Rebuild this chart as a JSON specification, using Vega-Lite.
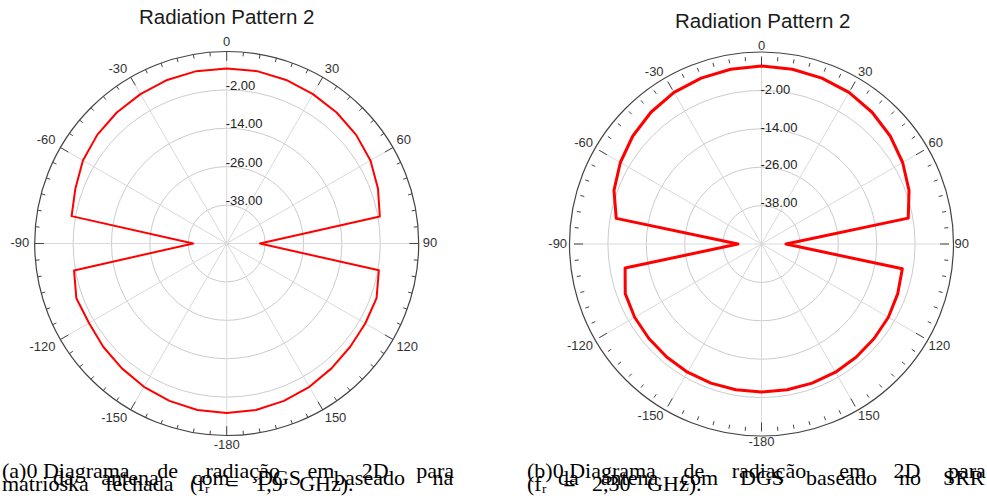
{
  "$schema": "https://vega.github.io/schema/vega-lite/v6.json",
  "padding": 0,
  "spacing": 0,
  "background": "white",
  "config": {"view": {"stroke": null}, "concat": {"spacing": 0}},
  "datasets": {
    "left": [
      {"ang": 0, "db": 4.69}, {"ang": 10, "db": 4.69}, {"ang": 20, "db": 4.38}, {"ang": 30, "db": 3.91},
      {"ang": 40, "db": 3.44}, {"ang": 50, "db": 2.81}, {"ang": 60, "db": 1.88}, {"ang": 70, "db": 0.31},
      {"ang": 80, "db": -1.41}, {"ang": 90, "db": -39.6}, {"ang": 100, "db": -1.72}, {"ang": 110, "db": -0.16},
      {"ang": 120, "db": 0.0}, {"ang": 130, "db": 0.31}, {"ang": 140, "db": 0.94}, {"ang": 150, "db": 1.72},
      {"ang": 160, "db": 2.34}, {"ang": 170, "db": 2.81}, {"ang": 180, "db": 2.97}, {"ang": 190, "db": 2.81},
      {"ang": 200, "db": 2.34}, {"ang": 210, "db": 1.72}, {"ang": 220, "db": 0.94}, {"ang": 230, "db": 0.31},
      {"ang": 240, "db": -0.31}, {"ang": 250, "db": 0.0}, {"ang": 260, "db": -1.56}, {"ang": 270, "db": -39.53},
      {"ang": 280, "db": -0.78}, {"ang": 290, "db": 0.31}, {"ang": 300, "db": 1.88}, {"ang": 310, "db": 2.81},
      {"ang": 320, "db": 3.44}, {"ang": 330, "db": 3.91}, {"ang": 340, "db": 4.38}, {"ang": 350, "db": 4.69},
      {"ang": 360, "db": 4.69}
    ],
    "right": [
      {"ang": 0, "db": 6.96}, {"ang": 10, "db": 6.8}, {"ang": 20, "db": 6.48}, {"ang": 30, "db": 6.0},
      {"ang": 40, "db": 5.04}, {"ang": 50, "db": 3.76}, {"ang": 60, "db": 2.16}, {"ang": 70, "db": 0.24},
      {"ang": 80, "db": -2.32}, {"ang": 90, "db": -42.16}, {"ang": 100, "db": -4.24}, {"ang": 110, "db": -3.6},
      {"ang": 120, "db": -3.12}, {"ang": 130, "db": -2.96}, {"ang": 140, "db": -2.8}, {"ang": 150, "db": -2.64},
      {"ang": 160, "db": -2.64}, {"ang": 170, "db": -2.64}, {"ang": 180, "db": -2.64}, {"ang": 190, "db": -2.64},
      {"ang": 200, "db": -2.64}, {"ang": 210, "db": -2.64}, {"ang": 220, "db": -2.8}, {"ang": 230, "db": -2.96},
      {"ang": 240, "db": -3.12}, {"ang": 250, "db": -3.6}, {"ang": 260, "db": -5.68}, {"ang": 270, "db": -42.48},
      {"ang": 280, "db": -2.8}, {"ang": 290, "db": 0.24}, {"ang": 300, "db": 2.16}, {"ang": 310, "db": 3.76},
      {"ang": 320, "db": 5.04}, {"ang": 330, "db": 6.0}, {"ang": 340, "db": 6.48}, {"ang": 350, "db": 6.8},
      {"ang": 360, "db": 6.96}
    ],
    "rg": [{"lv": -38, "t": "-38.00"}, {"lv": -26, "t": "-26.00"}, {"lv": -14, "t": "-14.00"}, {"lv": -2, "t": "-2.00"}],
    "outer": [{"lv": 10}],
    "spk": [{"ang": 0}, {"ang": 30}, {"ang": 60}, {"ang": 90}, {"ang": 120}, {"ang": 150}, {"ang": 180}, {"ang": 210}, {"ang": 240}, {"ang": 270}, {"ang": 300}, {"ang": 330}],
    "tk": [
      {"ang": 0}, {"ang": 5}, {"ang": 10}, {"ang": 15}, {"ang": 20}, {"ang": 25}, {"ang": 30}, {"ang": 35}, {"ang": 40}, {"ang": 45}, {"ang": 50}, {"ang": 55},
      {"ang": 60}, {"ang": 65}, {"ang": 70}, {"ang": 75}, {"ang": 80}, {"ang": 85}, {"ang": 90}, {"ang": 95}, {"ang": 100}, {"ang": 105}, {"ang": 110}, {"ang": 115},
      {"ang": 120}, {"ang": 125}, {"ang": 130}, {"ang": 135}, {"ang": 140}, {"ang": 145}, {"ang": 150}, {"ang": 155}, {"ang": 160}, {"ang": 165}, {"ang": 170}, {"ang": 175},
      {"ang": 180}, {"ang": 185}, {"ang": 190}, {"ang": 195}, {"ang": 200}, {"ang": 205}, {"ang": 210}, {"ang": 215}, {"ang": 220}, {"ang": 225}, {"ang": 230}, {"ang": 235},
      {"ang": 240}, {"ang": 245}, {"ang": 250}, {"ang": 255}, {"ang": 260}, {"ang": 265}, {"ang": 270}, {"ang": 275}, {"ang": 280}, {"ang": 285}, {"ang": 290}, {"ang": 295},
      {"ang": 300}, {"ang": 305}, {"ang": 310}, {"ang": 315}, {"ang": 320}, {"ang": 325}, {"ang": 330}, {"ang": 335}, {"ang": 340}, {"ang": 345}, {"ang": 350}, {"ang": 355}
    ],
    "al": [
      {"ang": 0, "t": "0"}, {"ang": 30, "t": "30"}, {"ang": 60, "t": "60"}, {"ang": 90, "t": "90"},
      {"ang": 120, "t": "120"}, {"ang": 150, "t": "150"}, {"ang": 180, "t": "-180"}, {"ang": 210, "t": "-150"},
      {"ang": 240, "t": "-120"}, {"ang": 270, "t": "-90"}, {"ang": 300, "t": "-60"}, {"ang": 330, "t": "-30"}
    ],
    "ttl": [{"t": "Radiation Pattern 2"}],
    "capL1": [{"t": "(a)0 Diagrama\u00a0\u00a0\u00a0\u00a0\u00a0de\u00a0\u00a0\u00a0\u00a0\u00a0radiação\u00a0\u00a0\u00a0\u00a0\u00a0em\u00a0\u00a0\u00a0\u00a0\u00a02D\u00a0\u00a0\u00a0\u00a0\u00a0para"}],
    "capL2": [{"t": "da\u00a0\u00a0\u00a0\u00a0\u00a0antena\u00a0\u00a0\u00a0\u00a0\u00a0\u00a0com\u00a0\u00a0\u00a0\u00a0\u00a0DGS\u00a0\u00a0\u00a0\u00a0\u00a0\u00a0baseado\u00a0\u00a0\u00a0\u00a0\u00a0na"}],
    "capL3": [{"t": "matrioska\u00a0\u00a0\u00a0fechada\u00a0\u00a0\u00a0(fᵣ\u00a0\u00a0\u00a0=\u00a0\u00a0\u00a01,9\u00a0\u00a0\u00a0GHz)."}],
    "capR1": [{"t": "(b)0 Diagrama\u00a0\u00a0\u00a0\u00a0\u00a0de\u00a0\u00a0\u00a0\u00a0\u00a0radiação\u00a0\u00a0\u00a0\u00a0\u00a0\u00a0em\u00a0\u00a0\u00a0\u00a0\u00a02D\u00a0\u00a0\u00a0\u00a0\u00a0para"}],
    "capR2": [{"t": "da\u00a0\u00a0\u00a0\u00a0antena\u00a0\u00a0\u00a0\u00a0com\u00a0\u00a0\u00a0\u00a0DGS\u00a0\u00a0\u00a0\u00a0baseado\u00a0\u00a0\u00a0\u00a0no\u00a0\u00a0\u00a0\u00a0SRR"}],
    "capR3": [{"t": "(fᵣ\u00a0\u00a0\u00a0=\u00a0\u00a0\u00a02,30\u00a0\u00a0\u00a0GHz)."}]
  },
  "hconcat": [
    {
      "width": 493,
      "height": 499,
      "layer": [
        {
          "data": {"name": "rg"},
          "transform": [{"calculate": "datum.lv + 50", "as": "rr"}],
          "mark": {"type": "point", "shape": "circle", "filled": false, "stroke": "#cccccc", "strokeWidth": 1, "opacity": 1},
          "encoding": {
            "x": {"datum": 0, "type": "quantitative", "scale": {"domain": [-70.84, 83.22], "nice": false, "zero": false}, "axis": null},
            "y": {"datum": 0, "type": "quantitative", "scale": {"domain": [-79.84, 76.09], "nice": false, "zero": false}, "axis": null},
            "size": {"field": "rr", "type": "quantitative", "scale": {"type": "pow", "exponent": 2, "domain": [0, 60], "range": [0, 147456]}, "legend": null}
          }
        },
        {
          "data": {"name": "spk"},
          "transform": [
            {"calculate": "0", "as": "x0"},
            {"calculate": "0", "as": "y0"},
            {"calculate": "60 * sin(datum.ang * PI / 180)", "as": "x2"},
            {"calculate": "60 * cos(datum.ang * PI / 180)", "as": "y2"}
          ],
          "mark": {"type": "rule", "stroke": "#d9d9d9", "strokeWidth": 1},
          "encoding": {
            "x": {"field": "x0", "type": "quantitative", "scale": {"domain": [-70.84, 83.22], "nice": false, "zero": false}, "axis": null},
            "y": {"field": "y0", "type": "quantitative", "scale": {"domain": [-79.84, 76.09], "nice": false, "zero": false}, "axis": null},
            "x2": {"field": "x2"},
            "y2": {"field": "y2"}
          }
        },
        {
          "data": {"name": "outer"},
          "transform": [{"calculate": "datum.lv + 50", "as": "rr"}],
          "mark": {"type": "point", "shape": "circle", "filled": false, "stroke": "#444444", "strokeWidth": 1.2, "opacity": 1},
          "encoding": {
            "x": {"datum": 0, "type": "quantitative", "scale": {"domain": [-70.84, 83.22], "nice": false, "zero": false}, "axis": null},
            "y": {"datum": 0, "type": "quantitative", "scale": {"domain": [-79.84, 76.09], "nice": false, "zero": false}, "axis": null},
            "size": {"field": "rr", "type": "quantitative", "scale": {"type": "pow", "exponent": 2, "domain": [0, 60], "range": [0, 147456]}, "legend": null}
          }
        },
        {
          "data": {"name": "tk"},
          "transform": [
            {"calculate": "datum.ang % 30 === 0 ? 2.9 : 1.3", "as": "len"},
            {"calculate": "60 * sin(datum.ang * PI / 180)", "as": "xa"},
            {"calculate": "60 * cos(datum.ang * PI / 180)", "as": "ya"},
            {"calculate": "(60 - datum.len) * sin(datum.ang * PI / 180)", "as": "xb"},
            {"calculate": "(60 - datum.len) * cos(datum.ang * PI / 180)", "as": "yb"}
          ],
          "mark": {"type": "rule", "stroke": "#444444", "strokeWidth": 1},
          "encoding": {
            "x": {"field": "xa", "type": "quantitative", "scale": {"domain": [-70.84, 83.22], "nice": false, "zero": false}, "axis": null},
            "y": {"field": "ya", "type": "quantitative", "scale": {"domain": [-79.84, 76.09], "nice": false, "zero": false}, "axis": null},
            "x2": {"field": "xb"},
            "y2": {"field": "yb"}
          }
        },
        {
          "data": {"name": "left"},
          "transform": [
            {"calculate": "(datum.db + 50) * sin(datum.ang * PI / 180)", "as": "px"},
            {"calculate": "(datum.db + 50) * cos(datum.ang * PI / 180)", "as": "py"}
          ],
          "mark": {"type": "line", "color": "#ff0000", "strokeWidth": 2, "strokeJoin": "round"},
          "encoding": {
            "x": {"field": "px", "type": "quantitative", "scale": {"domain": [-70.84, 83.22], "nice": false, "zero": false}, "axis": null},
            "y": {"field": "py", "type": "quantitative", "scale": {"domain": [-79.84, 76.09], "nice": false, "zero": false}, "axis": null},
            "order": {"field": "ang", "type": "quantitative"}
          }
        },
        {
          "data": {"name": "al"},
          "transform": [
            {"calculate": "sin(datum.ang * PI / 180)", "as": "s"},
            {"calculate": "cos(datum.ang * PI / 180)", "as": "c"},
            {"calculate": "(196 * datum.s + (abs(datum.s) < 0.01 ? 0 : (datum.s > 0 ? 1 : -1)) * length(datum.t) * 3.6) / 3.2", "as": "lx"},
            {"calculate": "(196 * datum.c + (abs(datum.c) < 0.01 ? 0 : (datum.c > 0 ? 5 : -5))) / 3.2", "as": "ly"}
          ],
          "mark": {"type": "text", "font": "Liberation Sans", "fontSize": 13, "color": "#333333", "align": "center", "baseline": "middle"},
          "encoding": {
            "x": {"field": "lx", "type": "quantitative", "scale": {"domain": [-70.84, 83.22], "nice": false, "zero": false}, "axis": null},
            "y": {"field": "ly", "type": "quantitative", "scale": {"domain": [-79.84, 76.09], "nice": false, "zero": false}, "axis": null},
            "text": {"field": "t"}
          }
        },
        {
          "data": {"name": "rg"},
          "transform": [{"calculate": "datum.lv + 50", "as": "ry"}, {"calculate": "0", "as": "rx"}],
          "mark": {"type": "text", "font": "Liberation Sans", "fontSize": 13, "color": "#222222", "align": "left", "baseline": "alphabetic", "dx": -1},
          "encoding": {
            "x": {"field": "rx", "type": "quantitative", "scale": {"domain": [-70.84, 83.22], "nice": false, "zero": false}, "axis": null},
            "y": {"field": "ry", "type": "quantitative", "scale": {"domain": [-79.84, 76.09], "nice": false, "zero": false}, "axis": null},
            "text": {"field": "t"}
          }
        },
        {
          "data": {"name": "ttl"},
          "mark": {"type": "text", "font": "Liberation Sans", "fontSize": 20.5, "color": "#1a1a1a", "align": "center", "baseline": "alphabetic"},
          "encoding": {
            "x": {"datum": 0, "type": "quantitative", "scale": {"domain": [-70.84, 83.22], "nice": false, "zero": false}, "axis": null},
            "y": {"datum": 68.6, "type": "quantitative", "scale": {"domain": [-79.84, 76.09], "nice": false, "zero": false}, "axis": null},
            "text": {"field": "t"}
          }
        },
        {
          "data": {"name": "capL1"},
          "mark": {"type": "text", "font": "Liberation Serif", "fontSize": 22, "color": "#000000", "align": "left", "baseline": "alphabetic"},
          "encoding": {
            "x": {"datum": -70.22, "type": "quantitative", "scale": {"domain": [-70.84, 83.22], "nice": false, "zero": false}, "axis": null},
            "y": {"datum": -73.28, "type": "quantitative", "scale": {"domain": [-79.84, 76.09], "nice": false, "zero": false}, "axis": null},
            "text": {"field": "t"}
          }
        },
        {
          "data": {"name": "capL2"},
          "mark": {"type": "text", "font": "Liberation Serif", "fontSize": 22, "color": "#000000", "align": "left", "baseline": "alphabetic"},
          "encoding": {
            "x": {"datum": -54.28, "type": "quantitative", "scale": {"domain": [-70.84, 83.22], "nice": false, "zero": false}, "axis": null},
            "y": {"datum": -75.47, "type": "quantitative", "scale": {"domain": [-79.84, 76.09], "nice": false, "zero": false}, "axis": null},
            "text": {"field": "t"}
          }
        },
        {
          "data": {"name": "capL3"},
          "mark": {"type": "text", "font": "Liberation Serif", "fontSize": 22, "color": "#000000", "align": "left", "baseline": "alphabetic"},
          "encoding": {
            "x": {"datum": -70.22, "type": "quantitative", "scale": {"domain": [-70.84, 83.22], "nice": false, "zero": false}, "axis": null},
            "y": {"datum": -77.34, "type": "quantitative", "scale": {"domain": [-79.84, 76.09], "nice": false, "zero": false}, "axis": null},
            "text": {"field": "t"}
          }
        }
      ]
    },
    {
      "width": 494,
      "height": 499,
      "layer": [
        {
          "data": {"name": "rg"},
          "transform": [{"calculate": "datum.lv + 50", "as": "rr"}],
          "mark": {"type": "point", "shape": "circle", "filled": false, "stroke": "#cccccc", "strokeWidth": 1, "opacity": 1},
          "encoding": {
            "x": {"datum": 0, "type": "quantitative", "scale": {"domain": [-85.92, 72.16], "nice": false, "zero": false}, "axis": null},
            "y": {"datum": 0, "type": "quantitative", "scale": {"domain": [-81.6, 78.08], "nice": false, "zero": false}, "axis": null},
            "size": {"field": "rr", "type": "quantitative", "scale": {"type": "pow", "exponent": 2, "domain": [0, 60], "range": [0, 140625]}, "legend": null}
          }
        },
        {
          "data": {"name": "spk"},
          "transform": [
            {"calculate": "0", "as": "x0"},
            {"calculate": "0", "as": "y0"},
            {"calculate": "60 * sin(datum.ang * PI / 180)", "as": "x2"},
            {"calculate": "60 * cos(datum.ang * PI / 180)", "as": "y2"}
          ],
          "mark": {"type": "rule", "stroke": "#d9d9d9", "strokeWidth": 1},
          "encoding": {
            "x": {"field": "x0", "type": "quantitative", "scale": {"domain": [-85.92, 72.16], "nice": false, "zero": false}, "axis": null},
            "y": {"field": "y0", "type": "quantitative", "scale": {"domain": [-81.6, 78.08], "nice": false, "zero": false}, "axis": null},
            "x2": {"field": "x2"},
            "y2": {"field": "y2"}
          }
        },
        {
          "data": {"name": "outer"},
          "transform": [{"calculate": "datum.lv + 50", "as": "rr"}],
          "mark": {"type": "point", "shape": "circle", "filled": false, "stroke": "#444444", "strokeWidth": 1.2, "opacity": 1},
          "encoding": {
            "x": {"datum": 0, "type": "quantitative", "scale": {"domain": [-85.92, 72.16], "nice": false, "zero": false}, "axis": null},
            "y": {"datum": 0, "type": "quantitative", "scale": {"domain": [-81.6, 78.08], "nice": false, "zero": false}, "axis": null},
            "size": {"field": "rr", "type": "quantitative", "scale": {"type": "pow", "exponent": 2, "domain": [0, 60], "range": [0, 140625]}, "legend": null}
          }
        },
        {
          "data": {"name": "tk"},
          "transform": [
            {"calculate": "datum.ang % 30 === 0 ? 2.9 : 1.3", "as": "len"},
            {"calculate": "60 * sin(datum.ang * PI / 180)", "as": "xa"},
            {"calculate": "60 * cos(datum.ang * PI / 180)", "as": "ya"},
            {"calculate": "(60 - datum.len) * sin(datum.ang * PI / 180)", "as": "xb"},
            {"calculate": "(60 - datum.len) * cos(datum.ang * PI / 180)", "as": "yb"}
          ],
          "mark": {"type": "rule", "stroke": "#444444", "strokeWidth": 1},
          "encoding": {
            "x": {"field": "xa", "type": "quantitative", "scale": {"domain": [-85.92, 72.16], "nice": false, "zero": false}, "axis": null},
            "y": {"field": "ya", "type": "quantitative", "scale": {"domain": [-81.6, 78.08], "nice": false, "zero": false}, "axis": null},
            "x2": {"field": "xb"},
            "y2": {"field": "yb"}
          }
        },
        {
          "data": {"name": "right"},
          "transform": [
            {"calculate": "(datum.db + 50) * sin(datum.ang * PI / 180)", "as": "px"},
            {"calculate": "(datum.db + 50) * cos(datum.ang * PI / 180)", "as": "py"}
          ],
          "mark": {"type": "line", "color": "#ff0000", "strokeWidth": 3, "strokeJoin": "round"},
          "encoding": {
            "x": {"field": "px", "type": "quantitative", "scale": {"domain": [-85.92, 72.16], "nice": false, "zero": false}, "axis": null},
            "y": {"field": "py", "type": "quantitative", "scale": {"domain": [-81.6, 78.08], "nice": false, "zero": false}, "axis": null},
            "order": {"field": "ang", "type": "quantitative"}
          }
        },
        {
          "data": {"name": "al"},
          "transform": [
            {"calculate": "sin(datum.ang * PI / 180)", "as": "s"},
            {"calculate": "cos(datum.ang * PI / 180)", "as": "c"},
            {"calculate": "(193 * datum.s + (abs(datum.s) < 0.01 ? 0 : (datum.s > 0 ? 1 : -1)) * length(datum.t) * 3.6) / 3.125", "as": "lx"},
            {"calculate": "(193 * datum.c + (abs(datum.c) < 0.01 ? 0 : (datum.c > 0 ? 5 : -5))) / 3.125", "as": "ly"}
          ],
          "mark": {"type": "text", "font": "Liberation Sans", "fontSize": 13, "color": "#333333", "align": "center", "baseline": "middle"},
          "encoding": {
            "x": {"field": "lx", "type": "quantitative", "scale": {"domain": [-85.92, 72.16], "nice": false, "zero": false}, "axis": null},
            "y": {"field": "ly", "type": "quantitative", "scale": {"domain": [-81.6, 78.08], "nice": false, "zero": false}, "axis": null},
            "text": {"field": "t"}
          }
        },
        {
          "data": {"name": "rg"},
          "transform": [{"calculate": "datum.lv + 50", "as": "ry"}, {"calculate": "0", "as": "rx"}],
          "mark": {"type": "text", "font": "Liberation Sans", "fontSize": 13, "color": "#222222", "align": "left", "baseline": "alphabetic", "dx": -1},
          "encoding": {
            "x": {"field": "rx", "type": "quantitative", "scale": {"domain": [-85.92, 72.16], "nice": false, "zero": false}, "axis": null},
            "y": {"field": "ry", "type": "quantitative", "scale": {"domain": [-81.6, 78.08], "nice": false, "zero": false}, "axis": null},
            "text": {"field": "t"}
          }
        },
        {
          "data": {"name": "ttl"},
          "mark": {"type": "text", "font": "Liberation Sans", "fontSize": 20.5, "color": "#1a1a1a", "align": "center", "baseline": "alphabetic"},
          "encoding": {
            "x": {"datum": 0.4, "type": "quantitative", "scale": {"domain": [-85.92, 72.16], "nice": false, "zero": false}, "axis": null},
            "y": {"datum": 69.12, "type": "quantitative", "scale": {"domain": [-81.6, 78.08], "nice": false, "zero": false}, "axis": null},
            "text": {"field": "t"}
          }
        },
        {
          "data": {"name": "capR1"},
          "mark": {"type": "text", "font": "Liberation Serif", "fontSize": 22, "color": "#000000", "align": "left", "baseline": "alphabetic"},
          "encoding": {
            "x": {"datum": -75.04, "type": "quantitative", "scale": {"domain": [-85.92, 72.16], "nice": false, "zero": false}, "axis": null},
            "y": {"datum": -74.88, "type": "quantitative", "scale": {"domain": [-81.6, 78.08], "nice": false, "zero": false}, "axis": null},
            "text": {"field": "t"}
          }
        },
        {
          "data": {"name": "capR2"},
          "mark": {"type": "text", "font": "Liberation Serif", "fontSize": 22, "color": "#000000", "align": "left", "baseline": "alphabetic"},
          "encoding": {
            "x": {"datum": -65.12, "type": "quantitative", "scale": {"domain": [-85.92, 72.16], "nice": false, "zero": false}, "axis": null},
            "y": {"datum": -77.12, "type": "quantitative", "scale": {"domain": [-81.6, 78.08], "nice": false, "zero": false}, "axis": null},
            "text": {"field": "t"}
          }
        },
        {
          "data": {"name": "capR3"},
          "mark": {"type": "text", "font": "Liberation Serif", "fontSize": 22, "color": "#000000", "align": "left", "baseline": "alphabetic"},
          "encoding": {
            "x": {"datum": -75.04, "type": "quantitative", "scale": {"domain": [-85.92, 72.16], "nice": false, "zero": false}, "axis": null},
            "y": {"datum": -79.04, "type": "quantitative", "scale": {"domain": [-81.6, 78.08], "nice": false, "zero": false}, "axis": null},
            "text": {"field": "t"}
          }
        }
      ]
    }
  ]
}
